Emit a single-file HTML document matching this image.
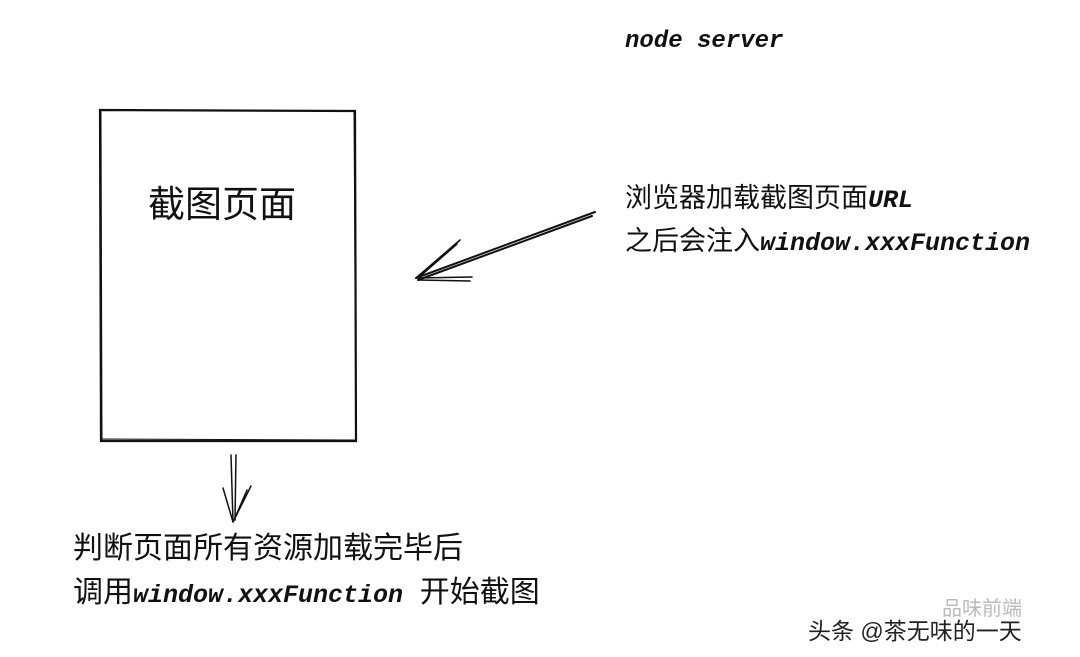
<!DOCTYPE html>
<html><head><meta charset="utf-8"><style>
body{margin:0;width:1080px;height:657px;background:#fff;position:relative;overflow:hidden;font-family:"Liberation Sans","Noto Sans CJK SC",sans-serif;color:#111}
.t{position:absolute;white-space:nowrap}
.m{font-family:"Liberation Mono","Noto Sans CJK SC",monospace;font-style:italic;font-weight:bold}
</style></head><body>
<svg width="1080" height="657" style="position:absolute;left:0;top:0" fill="none" stroke="#111" stroke-linecap="round">
<path d="M100 110 L355 111 L356 441 L101 441 Z" stroke-width="2.2"/>
<path d="M101 112 L102 440 M354 112 L356 440 M101 439 L355 440" stroke-width="1"/>
<path d="M595 212 L416 278 M592 216 L418 280" stroke-width="2"/>
<path d="M416 278 L460 240 M418 278 L457 244 M416 278 L472 277 M418 280 L470 281" stroke-width="1.6"/>
<path d="M231 455 L233 522 M236 455 L235 520" stroke-width="1.5"/>
<path d="M233 522 L223 488 M233 522 L251 486 M234 520 L247 490" stroke-width="1.5"/>
</svg>
<div class="t m" style="left:625px;top:28px;font-size:24px">node server</div>
<div class="t" style="left:148px;top:174px;font-size:37px">截图页面</div>
<div class="t" style="left:625px;top:178px;font-size:27px;line-height:41px">浏览器加载截图页面<span class="m" style="font-size:25px">URL</span><br>之后会注入<span class="m" style="font-size:25px">window.xxxFunction</span></div>
<div class="t" style="left:73px;top:527px;font-size:30px;line-height:44px">判断页面所有资源加载完毕后<br>调用<span class="m" style="font-size:25px">window.xxxFunction</span>&nbsp;&nbsp;开始截图</div>
<div class="t" style="left:942px;top:592px;font-size:20px;color:#bbb">品味前端</div>
<div class="t" style="left:808px;top:612px;font-size:23px;color:#222">头条 @茶无味的一天</div>
</body></html>
